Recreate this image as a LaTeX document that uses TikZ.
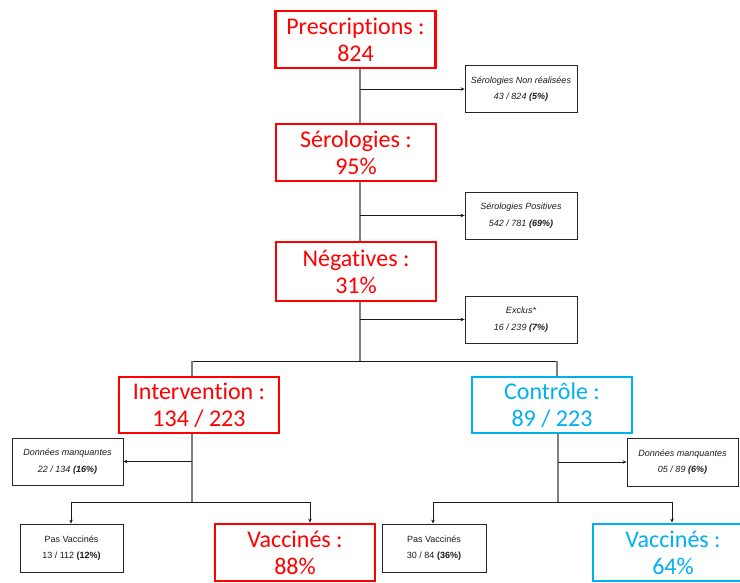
\documentclass[tikz,border=0pt]{standalone}
\usepackage{fontspec}
\newfontfamily\calfont[Ligatures=NoCommon]{Carlito}
\newfontfamily\arialfont{Liberation Sans}
\usetikzlibrary{arrows.meta}
\definecolor{flowred}{HTML}{FF0000}
\definecolor{flowcyan}{HTML}{00B0F0}
\definecolor{trunkgray}{HTML}{7F7F7F}
\definecolor{smalltext}{HTML}{1A1A1A}
\tikzset{
  bigbox/.style={draw, line width=2.8pt, rectangle, inner sep=0pt,
    minimum width=160pt, minimum height=57pt, align=center,
    font=\calfont\fontsize{24}{27}\selectfont},
  redbox/.style={bigbox, draw=flowred, text=flowred},
  cyanbox/.style={bigbox, draw=flowcyan, text=flowcyan},
  smallbox/.style={draw=black!85, line width=0.8pt, rectangle, inner sep=0pt,
    minimum width=112pt, minimum height=47pt, align=center, text=smalltext,
    font=\arialfont\fontsize{9}{16.5}\selectfont},
  trunk/.style={draw=trunkgray, line width=1.5pt},
  link/.style={draw=black!90, line width=0.8pt},
  arrowlink/.style={link, -{Stealth[length=4pt,width=3.5pt]}},
}
\begin{document}
\begin{tikzpicture}[x=1pt, y=-1pt]
\useasboundingbox (0,0) rectangle (740,582);

% main column
\node[redbox] (presc) at (355.5,39.5) {Prescriptions :\\824};
\node[redbox] (sero) at (356,152.5) {Sérologies :\\95\%};
\node[redbox, minimum height=59pt] (neg) at (356,271.5) {Négatives :\\31\%};

% exclusions along the main column
\node[smallbox] (nr) at (521,89) {\itshape Sérologies Non réalisées\\\itshape 43 / 824 \textbf{(5\%)}};
\node[smallbox] (pos) at (521,215.5) {\itshape Sérologies Positives\\\itshape 542 / 781 \textbf{(69\%)}};
\node[smallbox] (excl) at (521,319.5) {\itshape Exclus*\\\itshape 16 / 239 \textbf{(7\%)}};

% the two arms
\node[redbox, minimum height=56pt] (interv) at (199,405) {Intervention :\\134 / 223};
\node[cyanbox, minimum height=56pt] (ctrl) at (552,405) {Contrôle :\\89 / 223};

\node[smallbox, minimum width=111pt] (dmI) at (67.5,461.5) {\itshape Données manquantes\\\itshape 22 / 134 \textbf{(16\%)}};
\node[smallbox, minimum width=111pt, minimum height=48pt] (dmC) at (682.5,462) {\itshape Données manquantes\\\itshape 05 / 89 \textbf{(6\%)}};

\node[smallbox, minimum width=103pt, minimum height=48pt] (pvI) at (71.5,548) {Pas Vaccinés\\13 / 112 \textbf{(12\%)}};
\node[smallbox, minimum width=104pt, minimum height=48pt] (pvC) at (434,548) {Pas Vaccinés\\30 / 84 \textbf{(36\%)}};

\node[redbox] (vacI) at (295,552.5) {Vaccinés :\\88\%};
\node[cyanbox] (vacC) at (673,552.5) {Vaccinés :\\64\%};

% column positions of the vertical lines
\coordinate (tx) at (360,0);
\coordinate (ix) at (192,0);
\coordinate (cx) at (558,0);
\coordinate (split) at (360,361);
\coordinate (splitI) at (192,361);
\coordinate (splitC) at (557,361);
\coordinate (forkI) at (192,502);
\coordinate (forkC) at (558,502);
\coordinate (legIa) at (71,502);
\coordinate (legIb) at (310,502);
\coordinate (legCa) at (433,502);
\coordinate (legCb) at (672,502);

% main column trunk
\draw[trunk] (presc.south -| tx) -- (sero.north -| tx);
\draw[trunk] (sero.south -| tx) -- (neg.north -| tx);
\draw[trunk] (neg.south -| tx) -- (split);
\draw[arrowlink] (tx |- nr.west) -- (nr.west);
\draw[arrowlink] (tx |- pos.west) -- (pos.west);
\draw[arrowlink] (tx |- excl.west) -- (excl.west);

% split into the two arms
\draw[link] (splitI) -- (splitC);
\draw[trunk] (splitI) -- (interv.north -| splitI);
\draw[trunk] (splitC) -- (ctrl.north -| splitC);

% intervention arm
\draw[trunk] (interv.south -| ix) -- (forkI);
\draw[arrowlink] (ix |- dmI.east) -- (dmI.east);
\draw[link] (legIa) -- (legIb);
\draw[arrowlink] (legIa) -- (pvI.north -| legIa);
\draw[arrowlink] (legIb) -- (vacI.north -| legIb);

% control arm
\draw[trunk] (ctrl.south -| cx) -- (forkC);
\draw[arrowlink] (cx |- dmC.west) -- (dmC.west);
\draw[link] (legCa) -- (legCb);
\draw[arrowlink] (legCa) -- (pvC.north -| legCa);
\draw[arrowlink] (legCb) -- (vacC.north -| legCb);
\end{tikzpicture}
\end{document}
